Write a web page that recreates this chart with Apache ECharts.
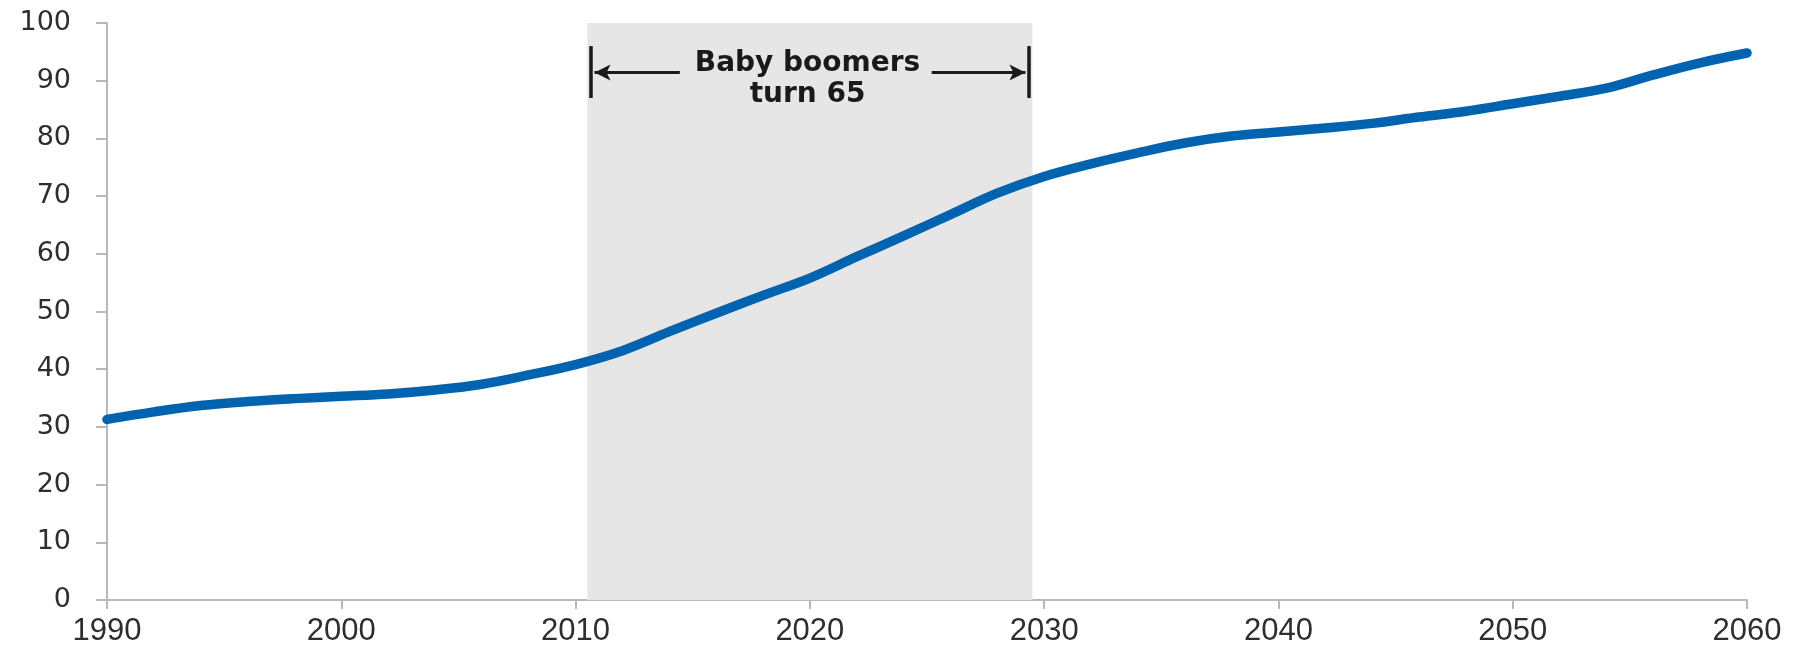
<!DOCTYPE html>
<html>
<head>
<meta charset="utf-8">
<style>
  html, body { margin: 0; padding: 0; background: #ffffff; }
  #chart { width: 1807px; height: 651px; }
</style>
<script src="https://cdn.jsdelivr.net/npm/echarts@6/dist/echarts.min.js"></script>
</head>
<body>
<div id="chart"></div>
<script>
// Projected series, one value every two years
const years = [1990, 1992, 1994, 1996, 1998, 2000, 2002, 2004, 2006, 2008, 2010, 2012,
               2014, 2016, 2018, 2020, 2022, 2024, 2026, 2028, 2030, 2032, 2034, 2036,
               2038, 2040, 2042, 2044, 2046, 2048, 2050, 2052, 2054, 2056, 2058, 2060];
const values = [31.3, 32.6, 33.7, 34.4, 34.9, 35.3, 35.7, 36.4, 37.4, 39.0, 40.8, 43.2,
                46.5, 49.7, 52.8, 55.8, 59.5, 63.1, 66.8, 70.5, 73.4, 75.6, 77.5, 79.2,
                80.4, 81.1, 81.8, 82.6, 83.7, 84.7, 86.0, 87.3, 88.7, 91.0, 93.1, 94.8];

// Axis ranges and ticks
const xTicks = [1990, 2000, 2010, 2020, 2030, 2040, 2050, 2060];
const yTicks = [0, 10, 20, 30, 40, 50, 60, 70, 80, 90, 100];

// Shaded period and its annotation
const bandYears = [2010.5, 2029.5];
const bracketYears = [2010.66, 2029.35];
const bracketRange = [87.0, 96.0];
const arrowLevel = 91.4;
const arrowInnerYears = [2014.45, 2025.2];
const bandLabel = ['Baby boomers', 'turn 65'];
const bandLabelPos = [2019.9, 90.3];

const chart = echarts.init(document.getElementById('chart'), null, { renderer: 'canvas' });

const axisColor = '#b8b8b8';
const inkColor = '#1a1a1a';
const labelColor = '#2e2e2e';

chart.setOption({
  animation: false,
  backgroundColor: '#ffffff',
  grid: { left: 107, right: 60, top: 23, bottom: 51, containLabel: false },
  xAxis: {
    type: 'value',
    min: xTicks[0],
    max: xTicks[xTicks.length - 1],
    interval: 10,
    axisLine: { show: true, lineStyle: { color: axisColor, width: 2 } },
    axisTick: { show: true, length: 9, lineStyle: { color: axisColor, width: 2 } },
    splitLine: { show: false },
    axisLabel: {
      margin: 16,
      color: labelColor,
      fontFamily: 'Liberation Sans',
      fontSize: 31,
      formatter: v => String(v)
    }
  },
  yAxis: {
    type: 'value',
    min: yTicks[0],
    max: yTicks[yTicks.length - 1],
    interval: 10,
    axisLine: { show: true, lineStyle: { color: axisColor, width: 2 } },
    axisTick: { show: true, length: 11, lineStyle: { color: axisColor, width: 2 } },
    splitLine: { show: false },
    axisLabel: {
      margin: 36,
      color: labelColor,
      fontFamily: 'DejaVu Sans',
      fontSize: 27
    }
  },
  series: [
    {
      // shaded period with its bracket, arrows and caption
      type: 'line',
      data: [],
      z: 1,
      silent: true,
      markArea: {
        silent: true,
        itemStyle: { color: '#e6e6e6' },
        data: [[{ xAxis: bandYears[0] }, { xAxis: bandYears[1] }]]
      },
      markLine: {
        silent: true,
        animation: false,
        label: { show: false },
        data: [
          [
            { coord: [bracketYears[0], bracketRange[0]], symbol: 'none', lineStyle: { color: inkColor, width: 3.5, type: 'solid' } },
            { coord: [bracketYears[0], bracketRange[1]], symbol: 'none' }
          ],
          [
            { coord: [bracketYears[1], bracketRange[0]], symbol: 'none', lineStyle: { color: inkColor, width: 3.5, type: 'solid' } },
            { coord: [bracketYears[1], bracketRange[1]], symbol: 'none' }
          ],
          [
            { coord: [arrowInnerYears[0], arrowLevel], symbol: 'none', lineStyle: { color: inkColor, width: 3, type: 'solid' } },
            { coord: [bracketYears[0] + 0.15, arrowLevel], symbol: 'arrow', symbolSize: [12, 16] }
          ],
          [
            { coord: [arrowInnerYears[1], arrowLevel], symbol: 'none', lineStyle: { color: inkColor, width: 3, type: 'solid' } },
            { coord: [bracketYears[1] - 0.15, arrowLevel], symbol: 'arrow', symbolSize: [12, 16] }
          ]
        ]
      },
      markPoint: {
        silent: true,
        symbol: 'circle',
        symbolSize: 1,
        itemStyle: { color: 'rgba(0,0,0,0)' },
        label: {
          show: true,
          position: 'inside',
          formatter: bandLabel.join('\n'),
          color: inkColor,
          fontFamily: 'DejaVu Sans',
          fontWeight: 'bold',
          fontSize: 28,
          lineHeight: 31,
          align: 'center'
        },
        data: [{ coord: bandLabelPos }]
      }
    },
    {
      type: 'line',
      z: 3,
      data: years.map((y, i) => [y, values[i]]),
      smooth: 0.35,
      showSymbol: false,
      lineStyle: { color: '#0063b0', width: 9.5, cap: 'round', join: 'round' }
    }
  ]
});
</script>
</body>
</html>
